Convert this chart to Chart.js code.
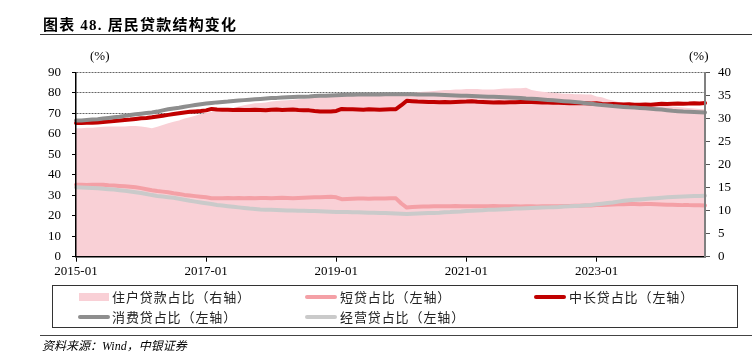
<!DOCTYPE html>
<html><head><meta charset="utf-8">
<script src="https://cdn.jsdelivr.net/npm/chart.js@4"></script>
<style>
html,body{margin:0;padding:0;background:#fff;}
#wrap{position:relative;width:752px;height:352px;overflow:hidden;font-family:"Liberation Serif","Noto Sans CJK SC",serif;color:#000;}
#c{position:absolute;left:0;top:0;}
.title{position:absolute;left:43px;top:15px;font-size:15px;font-weight:bold;letter-spacing:1.2px;line-height:20px;white-space:nowrap;}
.hr{position:absolute;left:40px;width:712px;height:0;}
.unit{position:absolute;top:48px;font-size:13px;line-height:16px;}
.box{position:absolute;left:52px;top:285px;width:686px;height:43px;border:1.5px solid #333;box-sizing:border-box;}
.lt{position:absolute;font-family:"Noto Sans CJK SC",sans-serif;font-size:13px;line-height:16px;letter-spacing:0.9px;color:#222;white-space:nowrap;}
.mk{position:absolute;}
.src{position:absolute;left:42px;top:338px;font-size:12px;line-height:16px;font-style:italic;white-space:nowrap;font-family:"Liberation Serif","Noto Sans CJK SC",serif;}
</style>
</head><body>
<div id="wrap">
  <canvas id="c" width="752" height="352"></canvas>
  <div class="title">图表 48. 居民贷款结构变化</div>
  <div class="hr" style="top:34px;border-top:1.5px solid #333;"></div>
  <div class="unit" style="left:90px;">(%)</div>
  <div class="unit" style="left:689px;">(%)</div>
  <div class="box"></div>
  <div id="legend"></div>
  <div class="hr" style="top:335px;border-top:1px solid #444;"></div>
  <div class="src">资料来源：Wind，中银证券</div>
</div>
<script>
// ---- data (monthly, 2015-01 .. 2024-09) ----
const xTickLabels = ['2015-01','2017-01','2019-01','2021-01','2023-01'];
const months = [];
for (let y = 2015; y <= 2024; y++) {
  for (let m = 1; m <= 12; m++) {
    if (y === 2024 && m > 9) break;
    months.push(y + '-' + String(m).padStart(2, '0'));
  }
}
// 住户贷款占比（右轴）
const householdShare = [
  27.9,27.9,28.0,28.0,28.1,28.2,28.3,28.3,28.3,28.3,28.4,28.4,
  28.3,28.1,27.9,28.2,28.6,29.0,29.3,29.6,30.0,30.3,30.6,31.0,
  31.2,31.5,31.7,31.9,32.0,32.3,32.6,32.9,33.1,33.3,33.4,33.5,
  33.7,33.8,33.9,34.0,34.1,34.2,34.3,34.4,34.5,34.6,34.7,34.8,
  34.9,35.0,35.0,35.1,35.1,35.2,35.2,35.3,35.3,35.4,35.4,35.5,
  35.5,35.5,35.6,35.7,35.8,35.9,36.0,36.1,36.2,36.2,36.3,36.3,
  36.4,36.4,36.4,36.3,36.3,36.3,36.4,36.5,36.5,36.6,36.6,36.7,
  36.2,36.0,35.8,35.7,35.6,35.5,35.4,35.4,35.3,35.3,35.2,35.2,
  34.8,34.6,34.2,33.9,33.6,33.5,33.4,33.2,33.1,33.0,32.9,32.9,
  32.8,32.7,32.6,32.5,32.4,32.3,32.2,32.1,32.0
];
// 短贷占比（左轴）
const shortShare = [
  35.2,35.1,35.0,35.1,35.2,35.1,34.9,34.8,34.6,34.4,34.2,33.9,
  33.5,33.0,32.5,32.1,31.8,31.5,31.0,30.6,30.2,29.9,29.6,29.3,
  29.0,28.6,28.5,28.6,28.7,28.6,28.7,28.6,28.7,28.6,28.7,28.7,
  28.6,28.7,28.8,28.7,28.6,28.7,28.8,28.9,29.0,29.1,29.2,29.3,
  29.0,28.1,28.2,28.3,28.4,28.4,28.3,28.4,28.4,28.4,28.5,28.5,
  26.0,24.0,24.3,24.4,24.5,24.5,24.6,24.6,24.7,24.7,24.8,24.7,
  24.6,24.7,24.6,24.7,24.7,24.8,24.7,24.6,24.7,24.6,24.5,24.6,
  24.6,24.5,24.6,24.6,24.7,24.7,24.8,24.8,24.9,24.9,25.0,25.0,
  25.2,25.3,25.4,25.5,25.6,25.6,25.7,25.7,25.6,25.7,25.7,25.6,
  25.5,25.4,25.4,25.3,25.2,25.2,25.1,25.1,25.0
];
// 中长贷占比（左轴）
const longShare = [
  65.3,65.3,65.4,65.5,65.6,65.8,66.0,66.3,66.6,66.8,67.0,67.3,
  67.6,67.8,68.1,68.5,68.9,69.3,69.7,70.1,70.5,70.8,71.0,71.2,
  71.5,72.2,71.9,71.8,71.8,71.7,71.8,71.7,71.7,71.8,71.7,71.6,
  71.8,71.9,71.7,71.8,71.9,71.7,71.6,71.5,71.2,71.0,71.0,70.9,
  71.2,72.2,72.1,72.0,71.9,71.8,72.0,71.9,71.8,71.9,72.0,72.1,
  74.0,76.2,76.0,75.8,75.7,75.6,75.6,75.5,75.6,75.5,75.6,75.7,
  75.8,76.0,75.7,75.6,75.5,75.4,75.5,75.4,75.5,75.5,75.6,75.7,
  75.6,75.5,75.4,75.3,75.2,75.2,75.1,75.0,75.1,75.0,75.0,74.9,
  75.0,74.6,74.5,74.6,74.5,74.4,74.5,74.3,74.3,74.4,74.3,74.5,
  74.7,74.6,74.7,74.8,74.7,74.8,75.0,74.9,75.1
];
// 消费贷占比（左轴）
const consumerShare = [
  66.5,66.6,66.8,67.0,67.2,67.5,67.8,68.1,68.4,68.8,69.2,69.6,
  69.9,70.2,70.5,70.9,71.5,72.0,72.4,72.8,73.3,73.7,74.1,74.5,
  74.8,75.1,75.4,75.6,75.8,76.1,76.3,76.5,76.7,76.9,77.1,77.3,
  77.5,77.6,77.8,77.9,78.0,78.1,78.2,78.3,78.5,78.6,78.7,78.8,
  78.9,79.0,79.1,79.1,79.2,79.2,79.3,79.3,79.3,79.4,79.4,79.4,
  79.4,79.4,79.4,79.3,79.3,79.3,79.2,79.1,79.0,78.9,78.8,78.7,
  78.6,78.5,78.4,78.3,78.2,78.1,78.0,77.9,77.8,77.7,77.5,77.3,
  77.2,77.0,76.8,76.6,76.4,76.2,76.0,75.8,75.6,75.3,75.0,74.7,
  74.4,74.1,73.9,73.6,73.4,73.2,73.0,72.9,72.7,72.5,72.3,72.1,
  71.9,71.6,71.3,71.1,70.9,70.8,70.7,70.6,70.5
];
// 经营贷占比（左轴）
const businessShare = [
  33.9,33.8,33.7,33.6,33.4,33.2,33.0,32.8,32.5,32.2,31.9,31.5,
  31.1,30.6,30.1,29.7,29.4,29.1,28.8,28.3,27.8,27.3,26.9,26.5,
  26.1,25.7,25.3,25.0,24.7,24.4,24.1,23.8,23.5,23.3,23.1,23.0,
  22.9,22.8,22.7,22.6,22.6,22.5,22.4,22.3,22.3,22.2,22.1,22.0,
  21.9,21.9,21.8,21.7,21.7,21.6,21.5,21.5,21.4,21.3,21.2,21.1,
  21.0,20.9,21.0,21.1,21.2,21.3,21.4,21.5,21.7,21.8,22.0,22.1,
  22.3,22.4,22.6,22.7,22.9,23.0,23.1,23.2,23.3,23.5,23.6,23.7,
  23.8,23.9,24.0,24.1,24.2,24.3,24.5,24.6,24.8,24.9,25.1,25.3,
  25.6,25.9,26.2,26.5,26.9,27.3,27.6,27.8,28.0,28.2,28.4,28.6,
  28.8,29.0,29.2,29.3,29.4,29.5,29.6,29.7,29.8
];
const seriesNames = ['住户贷款占比（右轴）','短贷占比（左轴）','中长贷占比（左轴）','消费贷占比（左轴）','经营贷占比（左轴）'];
const seriesColors = ['#F9D0D6','#F4A0A6','#C00000','#8E8E8E','#CACACA'];

// ---- chart ----
const tickFont = {family: '"Liberation Serif", serif', size: 13};
const lineDs = (i, data, order) => ({
  label: seriesNames[i], data, yAxisID: 'y', borderColor: seriesColors[i],
  borderWidth: 4, pointRadius: 0, fill: false, tension: 0, order,
  borderCapStyle: 'round', borderJoinStyle: 'round'
});
new Chart(document.getElementById('c'), {
  type: 'line',
  data: {
    labels: months,
    datasets: [
      {label: seriesNames[0], data: householdShare, yAxisID: 'y1', borderWidth: 0,
       borderColor: seriesColors[0], backgroundColor: seriesColors[0], pointRadius: 0,
       fill: 'origin', tension: 0, order: 10},
      lineDs(1, shortShare, 4),
      lineDs(2, longShare, 3),
      lineDs(3, consumerShare, 2),
      lineDs(4, businessShare, 1)
    ]
  },
  options: {
    responsive: false, animation: false,
    layout: {padding: {top: 72.5, bottom: 73.3, left: 0, right: 0}},
    plugins: {legend: {display: false}, tooltip: {enabled: false}},
    scales: {
      x: {
        type: 'category',
        ticks: {autoSkip: false, maxRotation: 0, minRotation: 0, padding: 2, color: '#000', font: tickFont,
          callback: (v, i) => xTickLabels.includes(months[i]) ? months[i] : null},
        grid: {drawOnChartArea: false, drawTicks: true, tickLength: 5, tickColor: '#000', tickWidth: 1},
        border: {color: '#000', width: 1.5, z: 1},
        afterFit: s => { s.height = 22; }
      },
      y: {
        position: 'left', min: 0, max: 90,
        ticks: {stepSize: 10, padding: 11, color: '#000', font: tickFont},
        grid: {display: true, drawOnChartArea: true, color: '#666', lineWidth: 1, drawTicks: true, tickLength: 4, tickColor: '#000', tickWidth: 1, tickBorderDash: [1, 0]},
        border: {color: '#000', width: 1.5, dash: [2, 1], z: 1},
        afterFit: s => { s.width = 76; }
      },
      y1: {
        position: 'right', min: 0, max: 40,
        ticks: {stepSize: 5, padding: 8, color: '#000', font: tickFont},
        grid: {drawOnChartArea: false, drawTicks: true, tickLength: 5, tickColor: '#555', tickWidth: 1},
        border: {color: '#808080', width: 2, z: 1},
        afterFit: s => { s.width = 47; }
      }
    }
  }
});

// ---- legend (HTML) ----
const legendPos = [
  {x: 79, y: 297, tx: 112, rect: true},
  {x: 305, y: 297, tx: 340},
  {x: 534, y: 297, tx: 569},
  {x: 78, y: 317, tx: 112},
  {x: 305, y: 317, tx: 340}
];
const lg = document.getElementById('legend');
legendPos.forEach((p, i) => {
  const mk = document.createElement('div');
  mk.className = 'mk';
  if (p.rect) {
    mk.style.cssText = `left:${p.x}px;top:${p.y - 4}px;width:30px;height:8px;background:${seriesColors[i]};`;
  } else {
    mk.style.cssText = `left:${p.x}px;top:${p.y - 2}px;width:32px;height:4px;border-radius:2px;background:${seriesColors[i]};`;
  }
  lg.appendChild(mk);
  const t = document.createElement('div');
  t.className = 'lt';
  t.style.cssText = `left:${p.tx}px;top:${p.y - 8}px;`;
  t.textContent = seriesNames[i];
  lg.appendChild(t);
});
</script>
</body></html>
